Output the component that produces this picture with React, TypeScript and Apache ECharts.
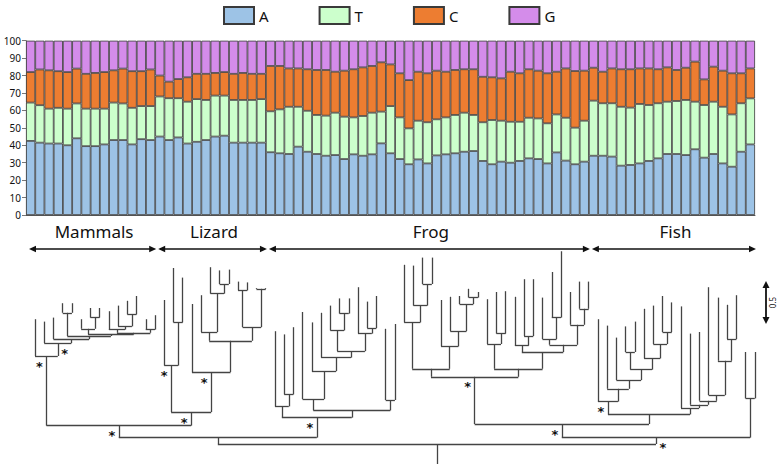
import React, { useEffect, useRef } from "react";
import * as echarts from "echarts";

// ---------- data ----------
const SERIES_NAMES = ["A", "T", "C", "G"];
const SERIES_COLORS = ["#9DC3E6", "#CCFFCC", "#ED7D31", "#D48CEA"];
const CATEGORIES = Array.from({ length: 79 }, (_, i) => String(i + 1));

const A_PCT = [
  42.5, 41.5, 41.0, 41.0, 40.0, 44.0, 39.5, 39.5, 40.5, 43.0, 43.0, 40.5, 43.5, 43.0,
  45.0, 43.0, 44.5, 41.0, 42.0, 43.0, 45.0, 45.5, 41.5, 41.5, 41.5, 41.5,
  36.0, 35.4, 35.0, 39.2, 36.3, 35.0, 34.0, 34.4, 32.1, 34.8, 34.0, 34.8, 41.1, 35.4, 32.1, 29.1, 31.9, 29.6,
  34.2, 34.8, 35.4, 36.3, 36.7, 31.0, 29.1, 30.6, 30.0, 31.0, 32.5, 32.1, 29.6, 35.9, 31.2, 29.1, 30.6,
  34.0, 34.0, 33.5, 28.3, 28.7, 29.6, 31.0, 32.5, 35.0, 35.0, 34.4, 37.7, 32.9, 35.0, 29.6, 27.7, 36.3, 40.5,
];
const T_PCT = [
  22.0, 21.5, 20.0, 20.5, 21.0, 20.0, 21.5, 21.5, 20.5, 21.5, 21.0, 21.0, 19.0, 19.5,
  23.0, 24.0, 22.5, 24.0, 24.5, 23.0, 23.5, 23.0, 24.5, 24.5, 24.5, 25.0,
  23.5, 25.2, 27.1, 22.9, 23.5, 22.4, 23.0, 24.3, 24.3, 21.2, 22.8, 23.9, 18.2, 27.1, 23.9, 20.6, 22.2, 23.6,
  20.7, 21.2, 22.0, 22.4, 20.7, 22.2, 25.4, 23.5, 23.5, 22.5, 23.3, 23.3, 23.0, 21.8, 24.6, 21.0, 23.5,
  31.6, 30.1, 30.6, 33.8, 32.9, 34.1, 32.1, 31.6, 30.0, 30.4, 31.6, 27.3, 30.2, 30.0, 32.5, 30.0, 27.8, 26.4,
];
const C_PCT = [
  17.5, 20.5, 22.0, 21.0, 21.0, 20.0, 20.0, 20.5, 21.0, 18.5, 20.0, 21.0, 20.0, 21.0,
  12.0, 9.5, 11.0, 14.0, 14.5, 15.0, 13.0, 13.5, 15.0, 15.5, 15.0, 14.5,
  26.0, 24.9, 22.0, 22.0, 23.8, 25.8, 26.2, 23.5, 26.4, 27.6, 27.9, 26.8, 28.3, 23.9, 25.3, 27.7, 28.1, 28.1,
  27.9, 26.2, 25.8, 24.9, 26.2, 26.1, 24.5, 24.3, 28.7, 27.8, 27.8, 27.4, 28.7, 24.5, 28.3, 32.5, 28.7,
  18.9, 18.1, 20.0, 21.5, 22.0, 20.4, 21.0, 19.5, 19.7, 17.8, 18.5, 23.0, 14.7, 20.1, 20.7, 23.6, 17.2, 17.2,
];
const G_PCT = [
  18.0, 16.5, 17.0, 17.5, 18.0, 16.0, 19.0, 18.5, 18.0, 17.0, 16.0, 17.5, 17.5, 16.5,
  20.0, 23.5, 22.0, 21.0, 19.0, 19.0, 18.5, 18.0, 19.0, 18.5, 19.0, 19.0,
  14.5, 14.5, 15.9, 15.9, 16.4, 16.8, 16.8, 17.8, 17.2, 16.4, 15.3, 14.5, 12.4, 13.6, 18.7, 22.6, 17.8, 18.7,
  17.2, 17.8, 16.8, 16.4, 16.4, 20.7, 21.0, 21.6, 17.8, 18.7, 16.4, 17.2, 18.7, 17.8, 15.9, 17.4, 17.2,
  15.5, 17.8, 15.9, 16.4, 16.4, 15.9, 15.9, 16.4, 15.3, 16.8, 15.5, 12.0, 22.2, 14.9, 17.2, 18.7, 18.7, 15.9,
];
const SERIES_VALUES = [A_PCT, T_PCT, C_PCT, G_PCT];

const GROUP_NAMES = ["Mammals", "Lizard", "Frog", "Fish"];
const GROUP_FIRST = [0, 14, 26, 61];
const GROUP_LAST = [13, 25, 60, 78];

const Y_TICKS_MAX = 100;
const Y_TICK_STEP = 10;
const SCALE_BAR_LENGTH = 0.5;

// Phylogeny: leaf = tip depth, internal node = { h: node depth, c: children, star?: side of asterisk }
type TNode = number | { h: number; c: TNode[]; star?: "L" | "R" };

const MAMMALS: TNode = {
  h: 1.1, star: "L", c: [1.56, {
    h: 1.26, star: "R", c: [1.53, {
      h: 1.31, c: [1.58, {
        h: 1.35, c: [
          { h: 1.64, c: [1.76, 1.76] },
          { h: 1.37, c: [
            { h: 1.44, c: [1.56, { h: 1.58, c: [1.7, 1.7] }] },
            { h: 1.39, c: [
              { h: 1.43, c: [1.66, { h: 1.47, c: [1.73, { h: 1.62, c: [1.79, 1.85] }] }] },
              { h: 1.43, c: [1.56, 1.61] },
            ] },
          ] },
        ],
      }],
    }],
  }],
};

const LIZARD: TNode = {
  h: 0.4, star: "L", c: [
    { h: 0.98, star: "L", c: [1.8, { h: 1.52, c: [2.2, 2.08] }] },
    { h: 0.9, star: "L", c: [1.75, { h: 1.29, c: [
      { h: 1.4, c: [1.86, { h: 1.88, c: [2.21, { h: 2.0, c: [2.17, 2.18] }] }] },
      { h: 1.46, c: [{ h: 1.92, c: [2.03, 2.02] }, { h: 1.94, c: [1.95, 1.95] }] },
    ] }] },
  ],
};

const FROG_A: TNode = {
  h: 0.33, star: "L", c: [
    { h: 0.47, c: [1.41, { h: 0.62, c: [1.37, 1.46] }] },
    { h: 0.42, c: [
      { h: 0.56, c: [1.65, { h: 0.91, c: [1.52, { h: 1.08, c: [1.64, { h: 1.16, c: [
        { h: 1.42, c: [1.73, { h: 1.63, c: [1.82, 1.82] }] },
        { h: 1.38, c: [1.96, { h: 1.45, c: [1.78, 1.85] }] },
      ] }] }] }] },
      { h: 0.55, c: [1.44, 1.5] },
    ] },
  ],
};

const FROG_B: TNode = {
  h: 0.84, star: "L", c: [
    { h: 0.94, c: [
      { h: 1.52, c: [2.24, { h: 1.73, c: [2.23, { h: 2.0, c: [2.33, 2.33] }] }] },
      { h: 1.22, c: [1.8, { h: 1.41, c: [1.84, { h: 1.75, c: [1.85, { h: 1.83, c: [1.94, 1.9] }] }] }] },
    ] },
    { h: 0.94, c: [
      { h: 1.25, c: [1.81, { h: 1.38, c: [1.9, 1.91] }] },
      { h: 1.15, c: [
        { h: 1.23, c: [1.84, { h: 1.35, c: [2.06, 2.06] }] },
        { h: 1.24, c: [
          { h: 1.31, c: [1.83, { h: 1.58, c: [2.15, 2.41] }] },
          { h: 1.49, c: [1.9, { h: 1.69, c: [2.03, 2.03] }] },
        ] },
      ] },
    ] },
  ],
};

const FISH_A: TNode = {
  h: 0.37, c: [
    { h: 0.53, star: "L", c: [1.56, { h: 0.69, c: [1.48, { h: 0.8, c: [1.33, { h: 0.93, c: [
      { h: 1.15, c: [1.47, 1.53] },
      { h: 1.07, c: [1.69, { h: 1.25, c: [1.73, { h: 1.4, c: [1.85, 1.77] }] }] },
    ] }] }] }] },
    { h: 0.45, c: [1.72, { h: 0.49, c: [1.38, { h: 0.54, c: [1.4, { h: 0.61, c: [1.96,
      { h: 1.04, c: [1.83, { h: 1.31, c: [1.74, 1.86] }] }] }] }] }] },
  ],
};

const FISH_B: TNode = { h: 0.57, c: [1.15, 1.15] };

const TREE: TNode = {
  h: 0, c: [
    { h: 0.08, c: [{ h: 0.23, star: "L", c: [MAMMALS, LIZARD] }, FROG_A] },
    { h: 0.08, star: "R", c: [{ h: 0.25, star: "L", c: [FROG_B, FISH_A] }, FISH_B] },
  ],
};
const ROOT_STEM_END = -0.25;

// ---------- layout helpers ----------
const BAR_LEFT = 26;
const BAR_WIDTH_TOTAL = 729;
const BAR_TOP = 40.7;
const BAR_HEIGHT = 174.3;
const TREE_TOP = 248;
const TREE_HEIGHT = 216;
const TREE_Y_MIN = -0.25;
const TREE_Y_MAX = 2.45;

function layoutTree(root: TNode) {
  const segs: number[][][] = [];
  const stars: number[][] = [];
  let leaf = 0;
  const walk = (n: TNode, parentH: number): number => {
    if (typeof n === "number") {
      const x = leaf++;
      segs.push([[x, parentH], [x, n]]);
      return x;
    }
    const xs = n.c.map((ch) => walk(ch, n.h));
    const lo = Math.min(...xs);
    const hi = Math.max(...xs);
    segs.push([[lo, n.h], [hi, n.h]]);
    const x = (lo + hi) / 2;
    segs.push([[x, parentH], [x, n.h]]);
    if (n.star) stars.push([x, n.h, n.star === "R" ? 1 : -1]);
    return x;
  };
  walk(root, ROOT_STEM_END);
  return { segs, stars };
}

function arrowH(x0: number, x1: number, y: number) {
  const hl = 7, hw = 3.2;
  return [
    { type: "line", shape: { x1: x0 + 2, y1: y, x2: x1 - 2, y2: y }, style: { stroke: "#111", lineWidth: 1.4 }, silent: true },
    { type: "polygon", shape: { points: [[x0, y], [x0 + hl, y - hw], [x0 + hl, y + hw]] }, style: { fill: "#111" }, silent: true },
    { type: "polygon", shape: { points: [[x1, y], [x1 - hl, y - hw], [x1 - hl, y + hw]] }, style: { fill: "#111" }, silent: true },
  ];
}

function arrowV(x: number, y0: number, y1: number) {
  const hl = 7, hw = 3.5;
  return [
    { type: "line", shape: { x1: x, y1: y0 + 2, x2: x, y2: y1 - 2 }, style: { stroke: "#111", lineWidth: 1.8 }, silent: true },
    { type: "polygon", shape: { points: [[x, y0], [x - hw, y0 + hl], [x + hw, y0 + hl]] }, style: { fill: "#111" }, silent: true },
    { type: "polygon", shape: { points: [[x, y1], [x - hw, y1 - hl], [x + hw, y1 - hl]] }, style: { fill: "#111" }, silent: true },
  ];
}

export default function App() {
  const ref = useRef<HTMLDivElement>(null);
  useEffect(() => {
    if (!ref.current) return;
    const chart = echarts.init(ref.current, undefined, { renderer: "svg" });
    const { segs, stars } = layoutTree(TREE);
    const bw = BAR_WIDTH_TOTAL / CATEGORIES.length;

    const graphics: any[] = [];
    const arrowY = 249;
    GROUP_NAMES.forEach((name, g) => {
      const x0 = BAR_LEFT + GROUP_FIRST[g] * bw + 3;
      const x1 = BAR_LEFT + (GROUP_LAST[g] + 1) * bw + 1;
      graphics.push(...arrowH(x0, x1, arrowY));
      graphics.push({
        type: "text",
        x: (x0 + x1) / 2 + 1.5,
        y: 231,
        style: { text: name, fontSize: 17, fontFamily: "Noto Sans", fill: "#111", align: "center", verticalAlign: "middle" },
        silent: true,
      });
    });
    const pxPerUnit = TREE_HEIGHT / (TREE_Y_MAX - TREE_Y_MIN);
    const sbLen = SCALE_BAR_LENGTH * pxPerUnit;
    const sbX = 766;
    const sbMid = 302.5;
    graphics.push(...arrowV(sbX, sbMid - sbLen / 2 - 1.5, sbMid + sbLen / 2 + 1.5));
    graphics.push({
      type: "text",
      x: 772.5,
      y: sbMid,
      rotation: Math.PI / 2,
      style: { text: String(SCALE_BAR_LENGTH), fontSize: 8, fontFamily: "Noto Sans", fill: "#111", align: "center", verticalAlign: "middle" },
      silent: true,
    });

    const option: any = {
      animation: false,
      textStyle: { fontFamily: "Noto Sans" },
      legend: {
        data: SERIES_NAMES,
        left: 218,
        top: 1,
        itemWidth: 30,
        itemHeight: 17,
        itemGap: 50,
        icon: "rect",
        selectedMode: false,
        textStyle: { fontSize: 15, color: "#111", fontFamily: "Noto Sans" },
      },
      grid: [
        { left: BAR_LEFT, top: BAR_TOP, width: BAR_WIDTH_TOTAL, height: BAR_HEIGHT },
        { left: BAR_LEFT + bw / 2 - 0.2, top: TREE_TOP, width: BAR_WIDTH_TOTAL, height: TREE_HEIGHT },
      ],
      xAxis: [
        {
          type: "category", gridIndex: 0, data: CATEGORIES,
          axisLabel: { show: false }, axisTick: { show: false },
          axisLine: { show: true, lineStyle: { color: "#555" } },
        },
        { type: "value", gridIndex: 1, min: -0.5, max: CATEGORIES.length - 0.5, show: false },
      ],
      yAxis: [
        {
          type: "value", gridIndex: 0, min: 0, max: Y_TICKS_MAX, interval: Y_TICK_STEP,
          axisLine: { show: true, lineStyle: { color: "#777" } },
          axisTick: { show: true, length: 4, lineStyle: { color: "#777" } },
          axisLabel: { fontSize: 10, color: "#111", margin: 5, fontFamily: "Noto Sans" },
          splitLine: { show: false },
        },
        { type: "value", gridIndex: 1, min: TREE_Y_MIN, max: TREE_Y_MAX, show: false },
      ],
      series: [
        ...SERIES_NAMES.map((name, i) => ({
          type: "bar",
          name,
          stack: "total",
          xAxisIndex: 0,
          yAxisIndex: 0,
          data: SERIES_VALUES[i],
          barCategoryGap: "0%",
          itemStyle: { color: SERIES_COLORS[i], borderColor: "#3a3a3a", borderWidth: 0.8 },
          silent: true,
        })),
        {
          type: "lines",
          coordinateSystem: "cartesian2d",
          xAxisIndex: 1,
          yAxisIndex: 1,
          data: segs.map((s) => ({ coords: s })),
          lineStyle: { color: "#444", width: 1.3, opacity: 1, curveness: 0 },
          silent: true,
        },
        {
          type: "custom",
          xAxisIndex: 1,
          yAxisIndex: 1,
          data: stars,
          silent: true,
          renderItem: (_params: any, api: any) => {
            const p = api.coord([api.value(0), api.value(1)]);
            const side = api.value(2);
            return {
              type: "text",
              x: p[0] + side * 7,
              y: p[1] + 10,
              style: {
                text: "*",
                fill: "#111",
                fontSize: 13,
                fontWeight: "bold",
                fontFamily: "DejaVu Sans",
                align: "center",
                verticalAlign: "middle",
              },
            };
          },
        },
      ],
      graphic: graphics,
    };
    chart.setOption(option);
    return () => chart.dispose();
  }, []);
  return <div ref={ref} style={{ width: 778, height: 464, position: "absolute", left: 0, top: 0 }} />;
}
